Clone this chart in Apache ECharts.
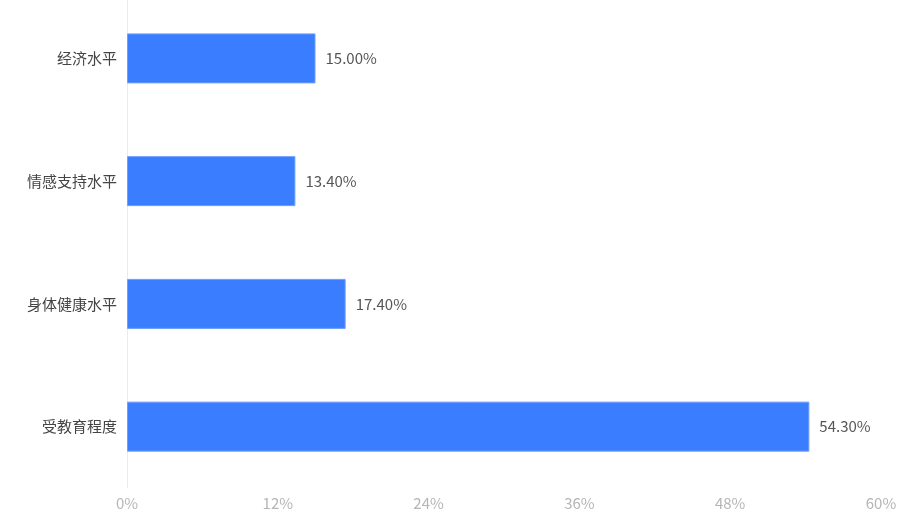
<!DOCTYPE html>
<html>
<head>
<meta charset="utf-8">
<script src="https://cdn.jsdelivr.net/npm/echarts@6/dist/echarts.min.js"></script>
<style>
    html, body { margin: 0; padding: 0; background: #fff; overflow: hidden; }
    #chart { width: 909px; height: 515px; margin-top: -3px; }
</style>
</head>
<body>
<div id="chart"></div>
<script>
    // 类目从下到上
    var categories = ['受教育程度', '身体健康水平', '情感支持水平', '经济水平'];
    var values = [54.3, 17.4, 13.4, 15.0];
    var xTicks = [0, 12, 24, 36, 48, 60];

    var myChart = echarts.init(document.getElementById('chart'));
    var font = '"Noto Sans CJK SC", "Noto Sans", sans-serif';

    var option = {
        animation: false,
        grid: {
            left: 127,
            right: 28,
            top: 0,
            bottom: 24,
            containLabel: false
        },
        xAxis: {
            type: 'value',
            min: xTicks[0],
            max: xTicks[xTicks.length - 1],
            interval: 12,
            axisLine: { show: false },
            axisTick: { show: false },
            splitLine: { show: false },
            axisLabel: {
                color: '#b5b5b5',
                fontSize: 15,
                fontFamily: font,
                margin: 8,
                formatter: '{value}%'
            }
        },
        yAxis: {
            type: 'category',
            data: categories,
            axisLine: { show: true, lineStyle: { color: '#ebebeb', width: 1 } },
            axisTick: { show: false },
            splitLine: { show: false },
            axisLabel: {
                color: '#444',
                fontSize: 15,
                fontFamily: font,
                margin: 10
            }
        },
        series: [
            {
                type: 'bar',
                data: values,
                barWidth: 50,
                itemStyle: {
                    color: '#3a7dff',
                    borderColor: '#6e9fff',
                    borderWidth: 1
                },
                label: {
                    show: true,
                    position: 'right',
                    distance: 10,
                    color: '#555',
                    fontSize: 15,
                    fontFamily: font,
                    formatter: function (p) {
                        return p.value.toFixed(2) + '%';
                    }
                }
            }
        ]
    };
    myChart.setOption(option, true);
</script>
</body>
</html>
